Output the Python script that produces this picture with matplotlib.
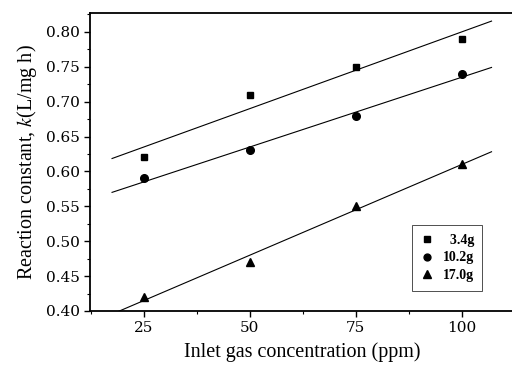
import matplotlib.pyplot as plt
import numpy as np
from matplotlib.ticker import MultipleLocator

plt.rcParams['font.family'] = ['Liberation Serif', 'DejaVu Serif']
plt.rcParams['mathtext.fontset'] = 'stix'

# Inlet gas concentration (ppm) and reaction constants for each mass
conc = [25, 50, 75, 100]
k_34 = [0.62, 0.71, 0.75, 0.79]
k_102 = [0.59, 0.63, 0.68, 0.74]
k_170 = [0.42, 0.47, 0.55, 0.61]
labels = ['  3.4g', '10.2g', '17.0g']
markers = ['s', 'o', '^']
sizes = [4.5, 5.5, 6]

fig = plt.figure(figsize=(5.12, 3.70), dpi=100)
ax = fig.add_axes([90 / 512, 59 / 370, 424 / 512, 298 / 370])

x_fit = np.linspace(17.5, 107, 50)
for ys, lab, m, ms in zip([k_34, k_102, k_170], labels, markers, sizes):
    ax.plot(conc, ys, linestyle='none', marker=m, ms=ms, color='black', label=lab)
    slope, icpt = np.polyfit(conc, ys, 1)
    ax.plot(x_fit, slope * x_fit + icpt, color='black', lw=0.8)

ax.set_xlim(12.3, 112.3)
ax.set_ylim(0.40, 0.827)
ax.set_xticks(conc)
ax.set_yticks(np.arange(0.40, 0.801, 0.05))
ax.yaxis.set_major_formatter(plt.FormatStrFormatter('%.2f'))
ax.xaxis.set_minor_locator(MultipleLocator(12.5))
ax.yaxis.set_minor_locator(MultipleLocator(0.025))
ax.tick_params(which='major', direction='out', length=4, width=1, labelsize=11)
ax.tick_params(which='minor', direction='out', length=2, width=0.8)
for t in ax.get_xticklabels() + ax.get_yticklabels():
    t.set_family('DejaVu Serif')
ax.spines['right'].set_visible(False)
for s in ['left', 'bottom', 'top']:
    ax.spines[s].set_linewidth(1.3)

ax.set_xlabel('Inlet gas concentration (ppm)', fontsize=14.5, labelpad=5)
ax.set_ylabel('Reaction constant, $k$(L/mg h)', fontsize=14.5, labelpad=5)

leg = ax.legend(loc='lower right', bbox_to_anchor=(0.942, 0.045), fancybox=False,
                edgecolor='black', handlelength=1.0, handletextpad=0.6,
                borderpad=0.6, labelspacing=0.35, markerscale=0.9,
                prop={'weight': 'bold', 'size': 10})
leg.get_frame().set_linewidth(0.6)

fig.savefig('out.png', dpi=100)
